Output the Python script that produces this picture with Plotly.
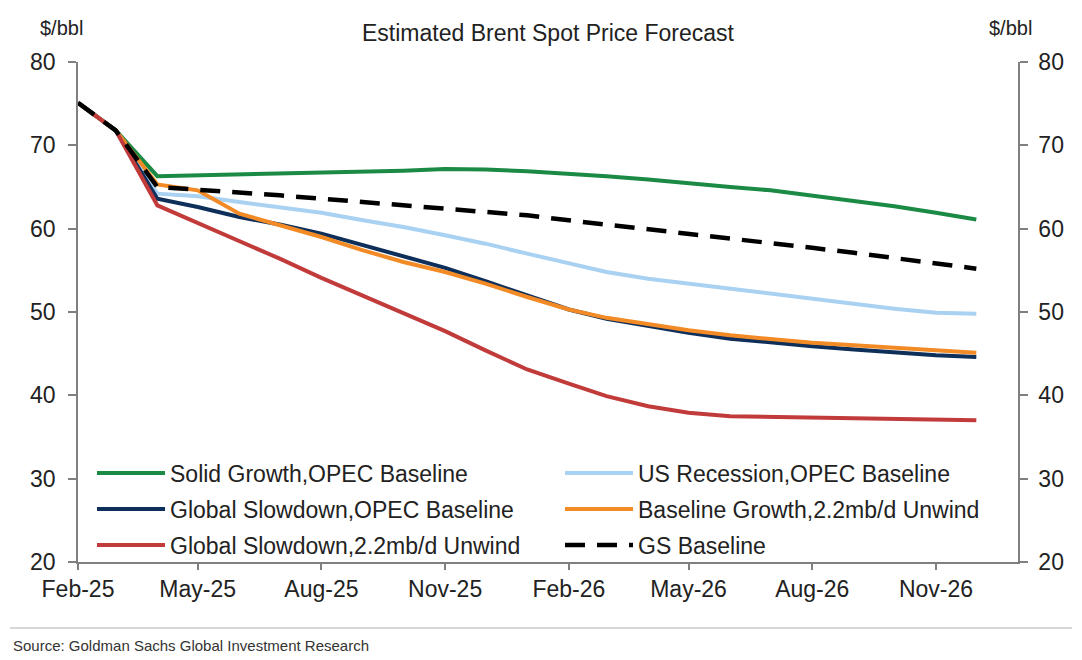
import plotly.graph_objects as go

months = ["2025-02-01", "2025-03-01", "2025-04-01", "2025-05-01", "2025-06-01",
          "2025-07-01", "2025-08-01", "2025-09-01", "2025-10-01", "2025-11-01",
          "2025-12-01", "2026-01-01", "2026-02-01", "2026-03-01", "2026-04-01",
          "2026-05-01", "2026-06-01", "2026-07-01", "2026-08-01", "2026-09-01",
          "2026-10-01", "2026-11-01", "2026-12-01"]

solid_growth = [75.1, 71.8, 66.3, 66.4, 66.5, 66.6, 66.7, 66.8, 66.95, 67.15, 67.1, 66.9,
                66.6, 66.3, 65.9, 65.4, 65.0, 64.6, 64.0, 63.4, 62.7, 61.9, 61.1]
us_recession = [75.1, 71.8, 64.2, 63.9, 63.2, 62.6, 61.9, 61.0, 60.2, 59.2, 58.2, 57.0,
                55.8, 54.8, 54.0, 53.4, 52.8, 52.2, 51.6, 51.0, 50.4, 49.9, 49.8]
slowdown_opec = [75.1, 71.8, 63.6, 62.6, 61.4, 60.5, 59.4, 58.0, 56.7, 55.3, 53.7, 52.0,
                 50.3, 49.2, 48.3, 47.5, 46.8, 46.3, 45.9, 45.5, 45.1, 44.8, 44.6]
baseline_unwind = [75.1, 71.8, 65.3, 64.6, 61.8, 60.4, 59.0, 57.4, 56.0, 54.8, 53.4, 51.8,
                   50.3, 49.3, 48.5, 47.8, 47.2, 46.7, 46.3, 46.0, 45.7, 45.4, 45.1]
slowdown_unwind = [75.1, 71.8, 62.8, 60.7, 58.6, 56.4, 54.1, 51.9, 49.8, 47.7, 45.4, 43.1,
                   41.4, 39.9, 38.7, 37.9, 37.5, 37.4, 37.4, 37.3, 37.1, 37.0, 37.0]
gs_baseline = [75.1, 71.8, 65.0, 64.7, 64.4, 64.0, 63.6, 63.2, 62.9, 62.4, 62.0, 61.6,
               61.0, 60.5, 60.0, 59.4, 58.8, 58.3, 57.7, 57.1, 56.5, 55.9, 55.2]

FONT = "Liberation Sans, Arial, sans-serif"

# (name, values, colour, dash, legend row) in drawing order
series = [
    ("Solid Growth,OPEC Baseline", solid_growth, "#1b8a44", "solid", "legend"),
    ("US Recession,OPEC Baseline", us_recession, "#a9d1f1", "solid", "legend"),
    ("Global Slowdown,OPEC Baseline", slowdown_opec, "#0e2f5a", "solid", "legend2"),
    ("Baseline Growth,2.2mb/d Unwind", baseline_unwind, "#f28a25", "solid", "legend2"),
    ("Global Slowdown,2.2mb/d Unwind", slowdown_unwind, "#c23b3b", "solid", "legend3"),
    ("GS Baseline", gs_baseline, "#000000", "20px,12px", "legend3"),
]

fig = go.Figure()
for name, vals, color, dash, leg in series:
    fig.add_trace(go.Scatter(
        x=months, y=vals, name=name, mode="lines", legend=leg,
        line=dict(color=color, width=4.5 if dash != "solid" else 4, dash=dash),
    ))

# invisible copy so the right-hand axis is drawn
fig.add_trace(go.Scatter(x=months, y=gs_baseline, yaxis="y2", mode="lines",
                         line=dict(width=0), opacity=0, showlegend=False, hoverinfo="skip"))

axis_common = dict(
    showline=True, linecolor="#808080", linewidth=1.5,
    ticks="outside", tickcolor="#808080", ticklen=8, tickwidth=1.5,
    showgrid=False, zeroline=False,
    tickfont=dict(family=FONT, size=23, color="#222222"),
)

legend_common = dict(
    orientation="h", x=0.0149, xanchor="left", yanchor="middle",
    entrywidth=385, entrywidthmode="pixels", itemwidth=68,
    font=dict(family=FONT, size=23, color="#222222"),
    bgcolor="rgba(0,0,0,0)",
)

# page body adds 8px offset, so margins are trimmed by 8px on the left/top
fig.update_layout(
    width=1074, height=652,
    margin=dict(l=70, r=64, t=54, b=98, autoexpand=False),
    paper_bgcolor="white", plot_bgcolor="white",
    font=dict(family=FONT, color="#222222"),
    xaxis=dict(
        type="date", range=["2025-02-01", "2027-01-01"],
        tick0="2025-02-01", dtick="M3", tickformat="%b-%y",
        **{**axis_common, "ticklen": 6},
    ),
    yaxis=dict(range=[20, 80], dtick=10, ticklabelstandoff=8, **axis_common),
    yaxis2=dict(range=[20, 80], dtick=10, overlaying="y", side="right",
                ticklabelstandoff=6, **axis_common),
    legend=dict(y=(562 - 473) / 500, **legend_common),
    legend2=dict(y=(562 - 509) / 500, **legend_common),
    legend3=dict(y=(562 - 545) / 500, **legend_common),
    showlegend=True,
)

fig.add_annotation(text="Estimated Brent Spot Price Forecast", xref="paper", yref="paper",
                   x=0.5, y=1 + 29 / 500, xanchor="center", yanchor="middle",
                   showarrow=False, font=dict(family=FONT, size=23, color="#222222"))
fig.add_annotation(text="$/bbl", xref="paper", yref="paper",
                   x=-17 / 940, y=1 + 34 / 500, xanchor="center", yanchor="middle",
                   showarrow=False, font=dict(family=FONT, size=20, color="#222222"))
fig.add_annotation(text="$/bbl", xref="paper", yref="paper",
                   x=1 - 8 / 940, y=1 + 34 / 500, xanchor="center", yanchor="middle",
                   showarrow=False, font=dict(family=FONT, size=20, color="#222222"))
fig.add_annotation(text="Source: Goldman Sachs Global Investment Research", xref="paper", yref="paper",
                   x=-67 / 940, y=-83 / 500, xanchor="left", yanchor="middle",
                   showarrow=False, font=dict(family=FONT, size=15, color="#333333"))
fig.add_shape(type="line", xref="paper", yref="paper",
              x0=-68 / 940, x1=1 + 54 / 940, y0=-66 / 500, y1=-66 / 500,
              line=dict(color="#b0b0b0", width=1))

fig.write_html("out.html")
